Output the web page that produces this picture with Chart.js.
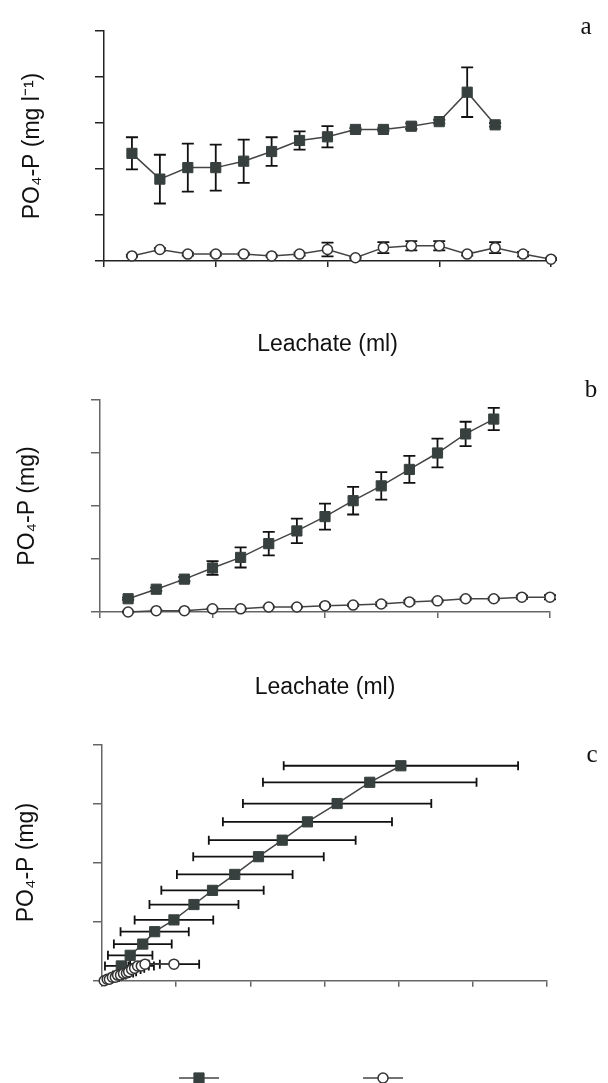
<!DOCTYPE html>
<html>
<head>
<meta charset="utf-8">
<script src="https://cdn.jsdelivr.net/npm/chart.js@4.4.1/dist/chart.umd.min.js"></script>
<style>
  html, body { margin: 0; padding: 0; background: #fff; overflow: hidden; }
  #wrap { position: relative; width: 608px; height: 1083px; }
  canvas { position: absolute; left: 0; }
</style>
</head>
<body>
<div id="wrap">
  <canvas id="chartA" width="608" height="360" style="top:0px"></canvas>
  <canvas id="chartB" width="608" height="350" style="top:360px"></canvas>
  <canvas id="chartC" width="608" height="373" style="top:710px"></canvas>
</div>
<script>
// sampling steps of leachate (no tick labels in the figure)
const leachate = [1, 2, 3, 4, 5, 6, 7, 8, 9, 10, 11, 12, 13, 14, 15, 16];

// a: PO4-P concentration
const concManure   = [2.34, 1.78, 2.03, 2.03, 2.17, 2.38, 2.62, 2.70, 2.86, 2.86, 2.93, 3.03, 3.67, 2.96];
const concManureSd = [0.35, 0.53, 0.52, 0.50, 0.47, 0.31, 0.20, 0.23, 0.03, 0.03, 0.06, 0.04, 0.54, 0.04];
const concControl   = [0.11, 0.25, 0.15, 0.15, 0.15, 0.11, 0.15, 0.25, 0.07, 0.29, 0.33, 0.33, 0.15, 0.29, 0.15, 0.04];
const concControlSd = [0.02, 0.03, 0.03, 0.03, 0.02, 0.02, 0.03, 0.15, 0.02, 0.12, 0.10, 0.10, 0.03, 0.12, 0.05, 0.02];

// b: cumulative PO4-P
const cumManure   = [0.25, 0.43, 0.62, 0.83, 1.03, 1.29, 1.53, 1.80, 2.10, 2.38, 2.69, 3.00, 3.36, 3.64];
const cumManureSd = [0.02, 0.03, 0.04, 0.13, 0.19, 0.22, 0.23, 0.245, 0.26, 0.26, 0.255, 0.27, 0.23, 0.21];
const cumControl   = [0.00, 0.025, 0.025, 0.06, 0.06, 0.095, 0.095, 0.12, 0.13, 0.15, 0.19, 0.21, 0.25, 0.25, 0.28, 0.28];
const cumControlSd = [0.01, 0.01, 0.01, 0.01, 0.01, 0.01, 0.01, 0.02, 0.02, 0.03, 0.03, 0.02, 0.02, 0.02, 0.03, 0.04];

// c: cumulative PO4-P against the second variable (horizontal error)
const cXManure   = [0.26, 0.38, 0.55, 0.71, 0.97, 1.24, 1.49, 1.79, 2.11, 2.43, 2.77, 3.17, 3.61, 4.03];
const cXManureSd = [0.22, 0.30, 0.39, 0.46, 0.53, 0.60, 0.69, 0.78, 0.88, 0.99, 1.14, 1.27, 1.44, 1.58];
const cXControl   = [0.03, 0.07, 0.10, 0.14, 0.18, 0.21, 0.25, 0.29, 0.33, 0.36, 0.40, 0.44, 0.48, 0.53, 0.58, 0.97];
const cXControlSd = [0.01, 0.02, 0.03, 0.04, 0.05, 0.06, 0.07, 0.08, 0.09, 0.10, 0.12, 0.13, 0.15, 0.17, 0.20, 0.34];

const SANS = '"Liberation Sans", Arial, Helvetica, sans-serif';
const SERIF = '"Liberation Serif", "Times New Roman", serif';
const LINE = '#444';
const SQUARE = '#37403e';

function toPoints(xs, ys) {
  return ys.map((y, i) => ({ x: xs[i], y: y }));
}

// draws error bars under the markers, through the chart scales
const errorBars = {
  id: 'errorBars',
  beforeDatasetsDraw(chart, args, opts) {
    const ctx = chart.ctx;
    const xs = chart.scales.x, ys = chart.scales.y;
    const cap = opts.cap || 6;
    ctx.save();
    ctx.strokeStyle = '#111';
    ctx.lineWidth = 1.8;
    chart.data.datasets.forEach(ds => {
      if (!ds.err) return;
      ds.data.forEach((p, i) => {
        const e = ds.err[i];
        if (!e) return;
        ctx.beginPath();
        if (ds.errAxis === 'x') {
          const y = ys.getPixelForValue(p.y);
          const x1 = xs.getPixelForValue(p.x - e);
          const x2 = xs.getPixelForValue(p.x + e);
          ctx.moveTo(x1, y); ctx.lineTo(x2, y);
          ctx.moveTo(x1, y - cap); ctx.lineTo(x1, y + cap);
          ctx.moveTo(x2, y - cap); ctx.lineTo(x2, y + cap);
        } else {
          const x = xs.getPixelForValue(p.x);
          const y1 = ys.getPixelForValue(p.y - e);
          const y2 = ys.getPixelForValue(p.y + e);
          ctx.moveTo(x, y1); ctx.lineTo(x, y2);
          ctx.moveTo(x - cap, y1); ctx.lineTo(x + cap, y1);
          ctx.moveTo(x - cap, y2); ctx.lineTo(x + cap, y2);
        }
        ctx.stroke();
      });
    });
    ctx.restore();
  }
};

// panel letter (a, b, c) in the upper right
const panelLetter = {
  id: 'panelLetter',
  afterDraw(chart, args, opts) {
    if (!opts.text) return;
    const ctx = chart.ctx;
    ctx.save();
    ctx.font = '25px ' + SERIF;
    ctx.fillStyle = '#111';
    ctx.textAlign = 'center';
    ctx.textBaseline = 'middle';
    ctx.fillText(opts.text, opts.x, opts.y);
    ctx.restore();
  }
};

// legend of the figure: line with marker, no text
const markerLegend = {
  id: 'markerLegend',
  afterDraw(chart, args, opts) {
    if (!opts.items) return;
    const ctx = chart.ctx;
    const sets = chart.data.datasets;
    opts.items.forEach((cx, i) => {
      const ds = sets[i];
      const y = opts.y;
      ctx.save();
      ctx.strokeStyle = LINE;
      ctx.lineWidth = 1.5;
      ctx.beginPath();
      ctx.moveTo(cx - 20, y); ctx.lineTo(cx + 20, y);
      ctx.stroke();
      ctx.fillStyle = ds.pointBackgroundColor;
      ctx.strokeStyle = ds.pointBorderColor;
      ctx.lineWidth = ds.pointBorderWidth;
      ctx.beginPath();
      if (ds.pointStyle === 'rect') {
        const h = ds.pointRadius * Math.SQRT1_2;
        ctx.rect(cx - h, y - h, 2 * h, 2 * h);
      } else {
        ctx.arc(cx, y, ds.pointRadius, 0, Math.PI * 2);
      }
      ctx.fill();
      ctx.stroke();
      ctx.restore();
    });
  }
};

function squareSet(data, err, errAxis) {
  return {
    data: data, err: err, errAxis: errAxis, order: 1,
    borderColor: LINE, borderWidth: 1.5, tension: 0, clip: false,
    pointStyle: 'rect', pointRadius: 7.2,
    pointBackgroundColor: SQUARE, pointBorderColor: SQUARE, pointBorderWidth: 1
  };
}

function circleSet(data, err, errAxis) {
  return {
    data: data, err: err, errAxis: errAxis, order: 0,
    borderColor: LINE, borderWidth: 1.5, tension: 0, clip: false,
    pointStyle: 'circle', pointRadius: 5,
    pointBackgroundColor: '#fff', pointBorderColor: '#333', pointBorderWidth: 1.5
  };
}

function makeChart(id, cfg) {
  const axisColor = cfg.axisColor;
  return new Chart(document.getElementById(id), {
    type: 'line',
    data: { datasets: cfg.datasets },
    options: {
      responsive: false,
      animation: false,
      devicePixelRatio: 1,
      layout: { autoPadding: false, padding: { left: 0, top: cfg.top, right: cfg.right, bottom: 0 } },
      plugins: {
        legend: { display: false },
        tooltip: { enabled: false },
        errorBars: { cap: cfg.cap },
        panelLetter: cfg.letter,
        markerLegend: cfg.legend || {}
      },
      scales: {
        x: {
          type: 'linear', min: 0, max: cfg.xMax,
          ticks: { display: false, stepSize: cfg.xStep },
          grid: { drawOnChartArea: false, drawTicks: true, tickLength: 6, color: axisColor, lineWidth: 1.5 },
          border: { color: axisColor, width: 1.5 },
          title: {
            display: !!cfg.xTitle, text: cfg.xTitle || '', color: '#111',
            font: { family: SANS, size: 23 }, padding: { top: 0, bottom: cfg.xTitlePad || 0 }
          },
          afterFit: s => { s.height = cfg.xHeight; }
        },
        y: {
          type: 'linear', min: 0, max: cfg.yMax,
          ticks: { display: false, stepSize: 1 },
          grid: { drawOnChartArea: false, drawTicks: true, tickLength: 9, color: axisColor, lineWidth: 1.5 },
          border: { color: axisColor, width: 1.5 },
          title: {
            display: true, text: cfg.yTitle, color: '#111',
            font: { family: SANS, size: 23 }, padding: { top: cfg.yTitlePad, bottom: 0 }
          },
          afterFit: s => { s.width = cfg.left; }
        }
      }
    },
    plugins: [errorBars, panelLetter, markerLegend]
  });
}

makeChart('chartA', {
  datasets: [
    squareSet(toPoints(leachate, concManure), concManureSd, 'y'),
    circleSet(toPoints(leachate, concControl), concControlSd, 'y')
  ],
  axisColor: '#222', top: 31, right: 57, left: 104, xHeight: 99,
  xMax: 16, xStep: 4, yMax: 5, cap: 6,
  xTitle: 'Leachate (ml)', xTitlePad: 1.2,
  yTitle: 'PO\u2084-P (mg l\u207B\u00B9)', yTitlePad: 19.2,
  letter: { text: 'a', x: 586, y: 27 }
});

makeChart('chartB', {
  datasets: [
    squareSet(toPoints(leachate, cumManure), cumManureSd, 'y'),
    circleSet(toPoints(leachate, cumControl), cumControlSd, 'y')
  ],
  axisColor: '#666', top: 40, right: 58, left: 100, xHeight: 98,
  xMax: 16, xStep: 4, yMax: 4, cap: 6,
  xTitle: 'Leachate (ml)', xTitlePad: 8.2,
  yTitle: 'PO\u2084-P (mg)', yTitlePad: 14.2,
  letter: { text: 'b', x: 591, y: 30 }
});

makeChart('chartC', {
  datasets: [
    squareSet(toPoints(cXManure, cumManure), cXManureSd, 'x'),
    circleSet(toPoints(cXControl, cumControl), cXControlSd, 'x')
  ],
  axisColor: '#666', top: 34.5, right: 61, left: 102, xHeight: 102.3,
  xMax: 6, xStep: 1, yMax: 4, cap: 4.5,
  xTitle: '',
  yTitle: 'PO\u2084-P (mg)', yTitlePad: 13.2,
  letter: { text: 'c', x: 592, y: 45 },
  legend: { items: [199, 383], y: 368 }
});
</script>
</body>
</html>
